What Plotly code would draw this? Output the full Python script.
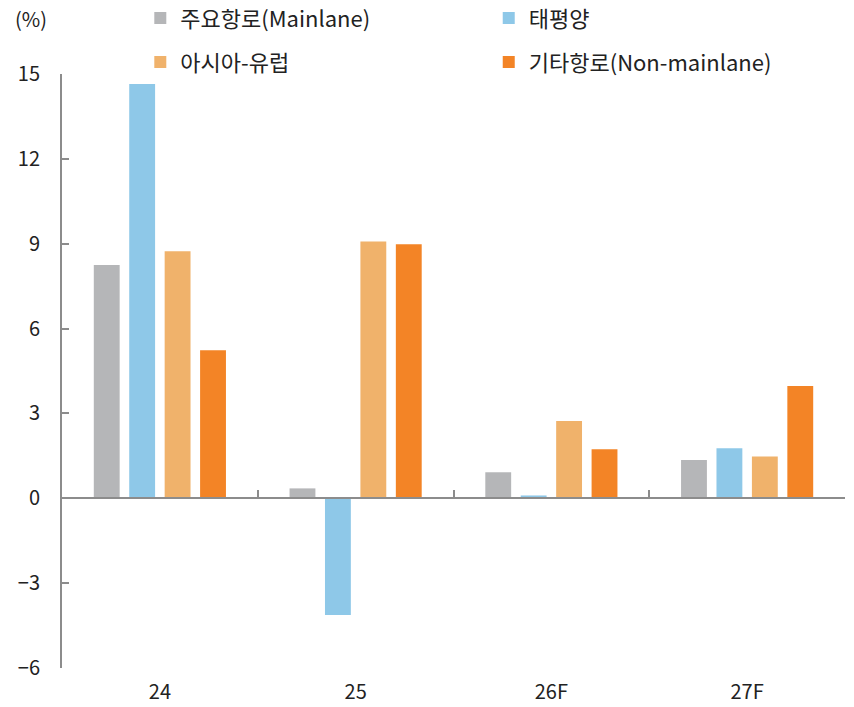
import plotly.graph_objects as go

categories = ["24", "25", "26F", "27F"]
mainlane = [8.25, 0.35, 0.92, 1.35]
pacific = [14.65, -4.13, 0.1, 1.77]
asia_europe = [8.73, 9.08, 2.73, 1.48]
non_mainlane = [5.23, 8.98, 1.73, 3.97]

series_names = ["주요항로(Mainlane)", "태평양", "아시아-유럽", "기타항로(Non-mainlane)"]
colors = ["#b5b6b8", "#8ec8e8", "#f0b26b", "#f38426"]
legend_ids = ["legend", "legend2", "legend3", "legend4"]

y_ticks = [-6, -3, 0, 3, 6, 9, 12, 15]
y_range = [-6, 15]

FONT = "Noto Sans CJK KR, Noto Sans, sans-serif"

fig = go.Figure()
for name, vals, col, lg in zip(series_names, [mainlane, pacific, asia_europe, non_mainlane], colors, legend_ids):
    fig.add_trace(go.Bar(x=categories, y=vals, name=name, marker_color=col,
                         marker_line_width=0, legend=lg))

# invisible trace to carry the zero-line category axis
fig.add_trace(go.Scatter(x=categories, y=[None] * len(categories), xaxis="x2",
                         showlegend=False, hoverinfo="skip"))

zero_frac = (0 - y_range[0]) / (y_range[1] - y_range[0])

# legend placement (paper coords): two columns, two rows
leg_pos = {"legend": (0.1, 1.094), "legend2": (0.545, 1.094),
           "legend3": (0.1, 1.02), "legend4": (0.545, 1.02)}
leg_layout = {}
for k, (lx, ly) in leg_pos.items():
    leg_layout[k] = dict(x=lx, y=ly, xanchor="left", yanchor="middle",
                         font=dict(size=22, color="#222222"), bgcolor="rgba(0,0,0,0)",
                         itemwidth=30)

fig.update_layout(
    width=854, height=707,
    margin=dict(l=62, r=9, t=74, b=39, autoexpand=False),
    paper_bgcolor="white", plot_bgcolor="white",
    font=dict(family=FONT, size=20, color="#222222"),
    barmode="group", bargap=0.276, bargroupgap=0.27,
    showlegend=True,
    xaxis=dict(type="category", categoryarray=categories, range=[-0.5, 3.5],
               showline=False, showgrid=False, ticks="", zeroline=False,
               ticklabelstandoff=10, tickfont=dict(size=20, color="#222222")),
    xaxis2=dict(type="category", categoryarray=categories, range=[-0.5, 3.5],
                overlaying="x", anchor="free", position=zero_frac, side="bottom",
                showline=True, linecolor="#8c8c8c", linewidth=2,
                ticks="inside", tickson="boundaries", ticklen=7, tickwidth=2,
                tickcolor="#8c8c8c", showticklabels=False, showgrid=False, zeroline=False),
    yaxis=dict(range=y_range, tickvals=y_ticks,
               ticktext=[("−" + str(-v)) if v < 0 else str(v) for v in y_ticks],
               showline=True, linecolor="#8c8c8c", linewidth=2,
               ticks="inside", ticklen=7, tickwidth=2, tickcolor="#8c8c8c",
               showgrid=False, zeroline=False, ticklabelstandoff=16,
               tickfont=dict(size=20, color="#222222")),
    annotations=[dict(text="(%)", xref="paper", yref="paper", x=-0.04, y=1.094,
                      showarrow=False, xanchor="center", yanchor="middle",
                      font=dict(size=20, color="#222222"))],
    **leg_layout,
)

fig.write_html("out.html")
